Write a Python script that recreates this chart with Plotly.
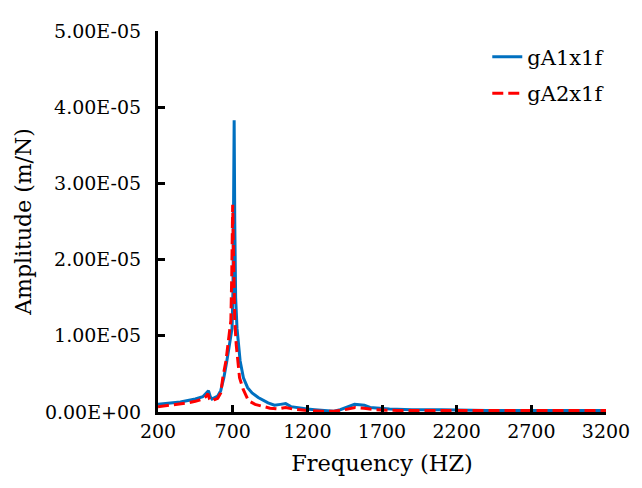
import plotly.graph_objects as go

# Frequency (Hz) and amplitude (x1e-5 m/N)
freq_a1 = [200, 250, 300, 350, 400, 450, 500, 520, 538, 550, 562, 580, 600, 620, 641, 661, 680,
           696, 702, 706, 710, 714, 720, 729, 750, 772, 800, 830, 871, 937, 980, 1020, 1055, 1090,
           1150, 1200, 1250, 1300, 1378, 1420, 1470, 1516, 1550, 1582, 1620, 1680, 1750, 1900,
           2100, 2400, 2700, 3000, 3200]
amp_a1 = [0.10, 0.11, 0.12, 0.13, 0.15, 0.17, 0.20, 0.24, 0.28, 0.20, 0.17, 0.19, 0.21, 0.28, 0.45,
          0.67, 0.90, 1.10, 1.60, 2.50, 3.83, 2.50, 1.50, 1.10, 0.67, 0.45, 0.32, 0.25, 0.19, 0.12,
          0.09, 0.10, 0.11, 0.07, 0.05, 0.04, 0.03, 0.02, 0.01, 0.03, 0.07, 0.10, 0.095, 0.09, 0.06,
          0.05, 0.04, 0.03, 0.03, 0.02, 0.02, 0.02, 0.02]

freq_a2 = [200, 250, 300, 350, 400, 450, 500, 520, 534, 545, 558, 575, 600, 620, 634, 655, 675,
           688, 694, 698, 700, 704, 708, 714, 724, 746, 770, 805, 850, 900, 950, 1000, 1055, 1100,
           1200, 1300, 1378, 1450, 1520, 1580, 1650, 1800, 2000, 2500, 3200]
amp_a2 = [0.07, 0.08, 0.09, 0.10, 0.12, 0.14, 0.17, 0.20, 0.24, 0.17, 0.14, 0.16, 0.18, 0.25, 0.45,
          0.67, 0.95, 1.20, 1.80, 2.30, 2.72, 2.20, 1.60, 1.20, 0.88, 0.45, 0.30, 0.15, 0.10, 0.07,
          0.05, 0.04, 0.06, 0.04, 0.02, 0.01, 0.01, 0.03, 0.06, 0.05, 0.03, 0.02, 0.02, 0.02, 0.02]

scale = 1e-5
x_ticks = [200, 700, 1200, 1700, 2200, 2700, 3200]
y_ticks = [0, 1e-5, 2e-5, 3e-5, 4e-5, 5e-5]
y_tick_labels = ["0.00E+00", "1.00E-05", "2.00E-05", "3.00E-05", "4.00E-05", "5.00E-05"]

FONT = "DejaVu Serif"

fig = go.Figure()
fig.add_trace(go.Scatter(x=freq_a1, y=[v * scale for v in amp_a1], mode="lines", name="gA1x1f",
                         legendgroup="a1", line=dict(color="#0070C0", width=3)))
fig.add_trace(go.Scatter(x=freq_a2, y=[v * scale for v in amp_a2], mode="lines", name="gA2x1f",
                         legendgroup="a2", line=dict(color="#FF0000", width=3, dash="11px,5px")))

fig.update_layout(
    width=634, height=480,
    margin=dict(l=150, r=26, t=14, b=76),
    paper_bgcolor="white", plot_bgcolor="white",
    font=dict(family=FONT, size=20, color="black"),
    legend=dict(x=0.735, y=0.985, xanchor="left", yanchor="top", bgcolor="rgba(0,0,0,0)",
                font=dict(family=FONT, size=21, color="black"), tracegroupgap=6),
    xaxis=dict(range=[200, 3200], tickvals=x_ticks, ticktext=[str(t) for t in x_ticks],
               showgrid=False, zeroline=False, showline=True, linecolor="black", linewidth=3,
               ticks="inside", ticklen=7, tickwidth=2.5, tickcolor="black",
               title=dict(text="Frequency (HZ)", font=dict(family=FONT, size=22.5), standoff=15),
               tickfont=dict(family=FONT, size=19)),
    yaxis=dict(range=[0, 5e-5], tickvals=y_ticks, ticktext=y_tick_labels,
               showgrid=False, zeroline=False, showline=True, linecolor="black", linewidth=3,
               ticks="inside", ticklen=7, tickwidth=2.5, tickcolor="black",
               ticklabelstandoff=10,
               title=dict(text="Amplitude (m/N)", font=dict(family=FONT, size=22), standoff=8),
               tickfont=dict(family=FONT, size=19)),
)

fig.write_html("out.html")
